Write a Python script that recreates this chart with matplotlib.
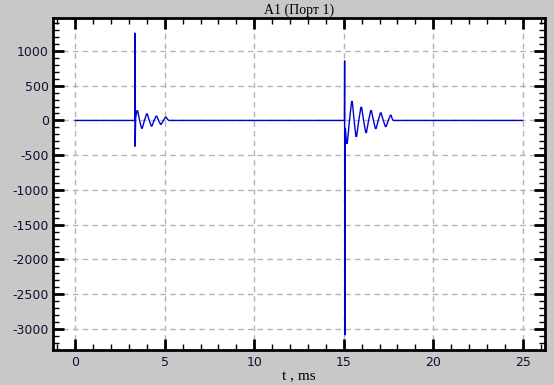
import matplotlib
matplotlib.use("Agg")
import matplotlib.pyplot as plt
from matplotlib.ticker import MultipleLocator

plt.rcParams["axes.unicode_minus"] = False

# Signal samples (time in ms, amplitude)
t_ms = [0.0, 3.32, 3.33, 3.34, 3.37, 3.44, 3.48, 3.59, 3.70, 3.74, 3.86, 3.98, 4.02, 4.13, 4.24, 4.28,
        4.40, 4.51, 4.55, 4.65, 4.76, 4.80, 4.92, 5.04, 5.08, 5.15, 5.23,
        15.04, 15.05, 15.06, 15.09, 15.16, 15.20, 15.32, 15.44, 15.48, 15.58, 15.68, 15.72, 15.84,
        15.96, 16.00, 16.11, 16.23, 16.27, 16.39, 16.51, 16.55, 16.66, 16.77, 16.81, 16.93, 17.05, 17.09, 17.21,
        17.33, 17.37, 17.49, 17.61, 17.65, 17.70, 17.76, 25.0]
amp = [0, 0, 1257, -371, 40, 140, 140, 0, -112, -112, 0, 94, 94, 0, -80, -80,
       0, 61, 61, 0, -56, -56, 0, 47, 47, 15, 0,
       0, 857, -3086, -114, -330, -330, 0, 272, 272, 0, -230, -230, 0,
       188, 188, 0, -174, -174, 0, 141, 141, 0, -117, -117, 0, 108, 108, 0,
       -88, -88, 0, 75, 75, 30, 0, 0]

x_ticks = [0, 5, 10, 15, 20, 25]
y_ticks = [1000, 500, 0, -500, -1000, -1500, -2000, -2500, -3000]
title = "A1 (Порт 1)"
xlabel = "t , ms"

fig = plt.figure(figsize=(5.54, 3.85), dpi=100, facecolor="#c8c8c8")
ax = fig.add_axes([53/554, 35/385, 492/554, 332/385])
ax.set_facecolor("white")
ax.plot(t_ms, amp, color="#0000d0", lw=1.0)

ax.set_xticks(x_ticks)
ax.set_yticks(y_ticks)
ax.xaxis.set_minor_locator(MultipleLocator(1))
ax.yaxis.set_minor_locator(MultipleLocator(100))
ax.margins(x=0.05, y=0.05)

ax.grid(True, which="major", color="#b4b4b4", linestyle=(0, (4, 3)), linewidth=1)
for s in ax.spines.values():
    s.set_linewidth(2)
    s.set_color("black")
ax.tick_params(which="both", direction="in", top=True, right=True,
               labeltop=False, labelright=False, color="black")
ax.tick_params(which="major", length=8, width=2, labelsize=9, pad=4)
ax.tick_params(which="minor", length=4, width=1)
ax.tick_params(axis="y", which="major", pad=3)
for lab in ax.get_xticklabels() + ax.get_yticklabels():
    lab.set_family(["DejaVu Sans"])
    lab.set_color("#101030")

ax.set_title(title, family=["Liberation Serif"], fontsize=10, pad=3)
ax.set_xlabel(xlabel, family=["Liberation Serif"], fontsize=11, labelpad=1)

fig.savefig("out.png", dpi=100, facecolor=fig.get_facecolor())
